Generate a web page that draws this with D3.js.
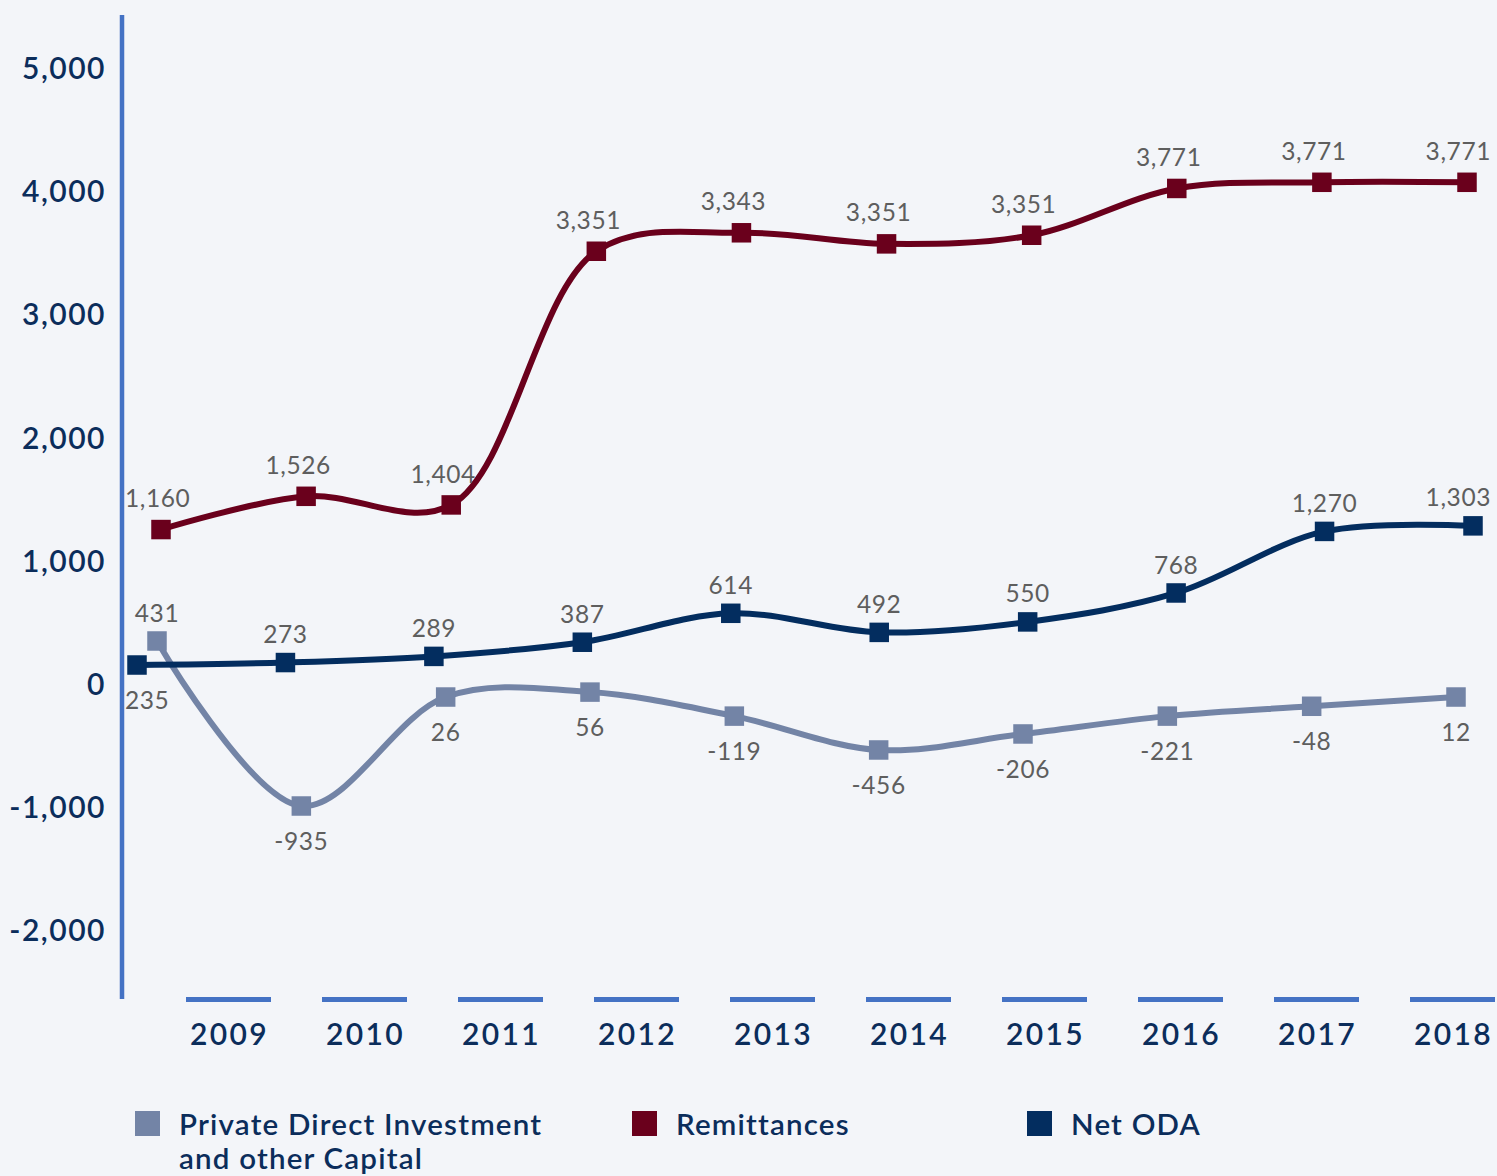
<!DOCTYPE html>
<html>
<head>
<meta charset="utf-8">
<script src="https://cdn.jsdelivr.net/npm/d3@7"></script>
<style>
  html, body { margin: 0; padding: 0; background: #f3f5f9; }
  svg { display: block; }
  text { font-family: Lato, "Open Sans", sans-serif; }
</style>
</head>
<body>
<svg id="chart" width="1497" height="1176"></svg>
<script>
// ---- data ----
const years = ["2009","2010","2011","2012","2013","2014","2015","2016","2017","2018"];
const yTicks = [-2000, -1000, 0, 1000, 2000, 3000, 4000, 5000];

// plotted positions
const pdiValues   = [355, -985, -100, -60, -255, -530, -400, -255, -175, -100];
const remitValues = [1260, 1530, 1460, 3520, 3670, 3580, 3650, 4030, 4080, 4080];
const odaValues   = [160, 180, 230, 345, 580, 425, 510, 745, 1245, 1290];

// printed data labels
const pdiLabels   = ["431","-935","26","56","-119","-456","-206","-221","-48","12"];
const remitLabels = ["1,160","1,526","1,404","3,351","3,343","3,351","3,351","3,771","3,771","3,771"];
const odaLabels   = ["235","273","289","387","614","492","550","768","1,270","1,303"];

const seriesNames = ["Private Direct Investment|and other Capital", "Remittances", "Net ODA"];

// ---- layout ----
const W = 1497, H = 1176;
const svg = d3.select("#chart");
svg.append("rect").attr("width", W).attr("height", H).attr("fill", "#f3f5f9");

const y = d3.scaleLinear().domain([-2000, 5000]).range([931, 69]);
const locale = d3.formatLocale({decimal: ".", thousands: ",", grouping: [3], currency: ["$", ""], minus: "-"});
const fmt = locale.format(",");

const colors = { pdi: "#7384a6", remit: "#6a001c", oda: "#032d5f" };
const axisColor = "#4472c4";
const navy = "#0b2d5b";

// x scales per series (markers drift slightly between series in the original)
const xPdi   = d3.scalePoint().domain(years).range([157, 1456]);
const xRemit = d3.scalePoint().domain(years).range([161, 1467]);
const xOda   = d3.scalePoint().domain(years).range([137, 1473]);

// band scale for x-axis segments and year labels
const xBand = d3.scaleBand().domain(years).range([160.5, 1520.5]).paddingInner(0.375).paddingOuter(0.1875);

// y axis
svg.append("line")
  .attr("x1", 122).attr("x2", 122).attr("y1", 15).attr("y2", 999)
  .attr("stroke", axisColor).attr("stroke-width", 4.5);

const yAxis = svg.append("g").attr("transform", "translate(122,0)")
  .call(d3.axisLeft(y).tickValues(yTicks).tickSize(0).tickPadding(16).tickFormat(fmt));
yAxis.select(".domain").remove();
yAxis.selectAll("text")
  .attr("fill", navy).attr("font-size", 30).attr("font-weight", 600)
  .attr("letter-spacing", 1.5)
  .style("font-family", "Lato, sans-serif");

// x axis segments
svg.append("g").selectAll("line").data(years).join("line")
  .attr("x1", d => xBand(d)).attr("x2", d => xBand(d) + xBand.bandwidth())
  .attr("y1", 999.5).attr("y2", 999.5)
  .attr("stroke", axisColor).attr("stroke-width", 5);

svg.append("g").selectAll("text").data(years).join("text")
  .attr("x", d => xBand(d) + xBand.bandwidth() / 2 + 1)
  .attr("y", 1045)
  .attr("text-anchor", "middle")
  .attr("fill", navy).attr("font-size", 30).attr("font-weight", 600)
  .attr("letter-spacing", 2.4)
  .text(d => d);

// series
const line = (xs) => d3.line().x((d, i) => xs(years[i])).y(d => y(d)).curve(d3.curveCatmullRom.alpha(0.5));

const series = [
  { key: "pdi",   values: pdiValues,   labels: pdiLabels,   x: xPdi },
  { key: "remit", values: remitValues, labels: remitLabels, x: xRemit },
  { key: "oda",   values: odaValues,   labels: odaLabels,   x: xOda }
];

const M = 19.5;
series.forEach(s => {
  const g = svg.append("g");
  g.append("path").attr("d", line(s.x)(s.values))
    .attr("fill", "none").attr("stroke", colors[s.key]).attr("stroke-width", 6)
    .attr("stroke-linejoin", "round");
  g.selectAll("rect").data(s.values).join("rect")
    .attr("x", (d, i) => s.x(years[i]) - M / 2)
    .attr("y", d => y(d) - M / 2)
    .attr("width", M).attr("height", M)
    .attr("fill", colors[s.key]);
});

// data labels
const labelColor = "#5e5e5e";
series.forEach(s => {
  svg.append("g").selectAll("text").data(s.values).join("text")
    .attr("x", (d, i) => {
      const base = s.x(years[i]);
      return s.key === "remit" ? base - 8 : base;
    })
    .attr("y", (d, i) => {
      let above;
      if (s.key === "remit") above = true;
      else if (s.key === "oda") above = d >= pdiValues[i];
      else above = d > odaValues[i];
      if (s.key === "remit") return y(d) - 31;
      return above ? y(d) - 28 : y(d) + 35;
    })
    .attr("dy", "0.35em")
    .attr("text-anchor", "middle")
    .attr("fill", labelColor).attr("font-size", 24.5)
    .attr("letter-spacing", 0.6)
    .text((d, i) => s.labels[i])
    .each(function() {
      // keep labels inside the plot: right of the y axis and left of the page edge
      const bb = this.getBBox();
      const x = +this.getAttribute("x");
      let shift = 0;
      if (bb.x + bb.width > W - 6) shift = (W - 6) - (bb.x + bb.width);
      if (bb.x < 125) shift = 125 - bb.x;
      this.setAttribute("x", x + shift);
    });
});

// legend
const legendX = [135, 632, 1027];
const legendKeys = ["pdi", "remit", "oda"];
const lg = svg.append("g");
legendKeys.forEach((k, i) => {
  lg.append("rect").attr("x", legendX[i]).attr("y", 1111).attr("width", 25).attr("height", 25).attr("fill", colors[k]);
  const t = lg.append("text").attr("x", legendX[i] + 44).attr("y", 1135)
    .attr("fill", navy).attr("font-size", 29.5).attr("font-weight", 600)
    .attr("letter-spacing", 1.2);
  seriesNames[i].split("|").forEach((part, j) => {
    t.append("tspan").attr("x", legendX[i] + 44).attr("dy", j === 0 ? 0 : 34).text(part);
  });
});
</script>
</body>
</html>
